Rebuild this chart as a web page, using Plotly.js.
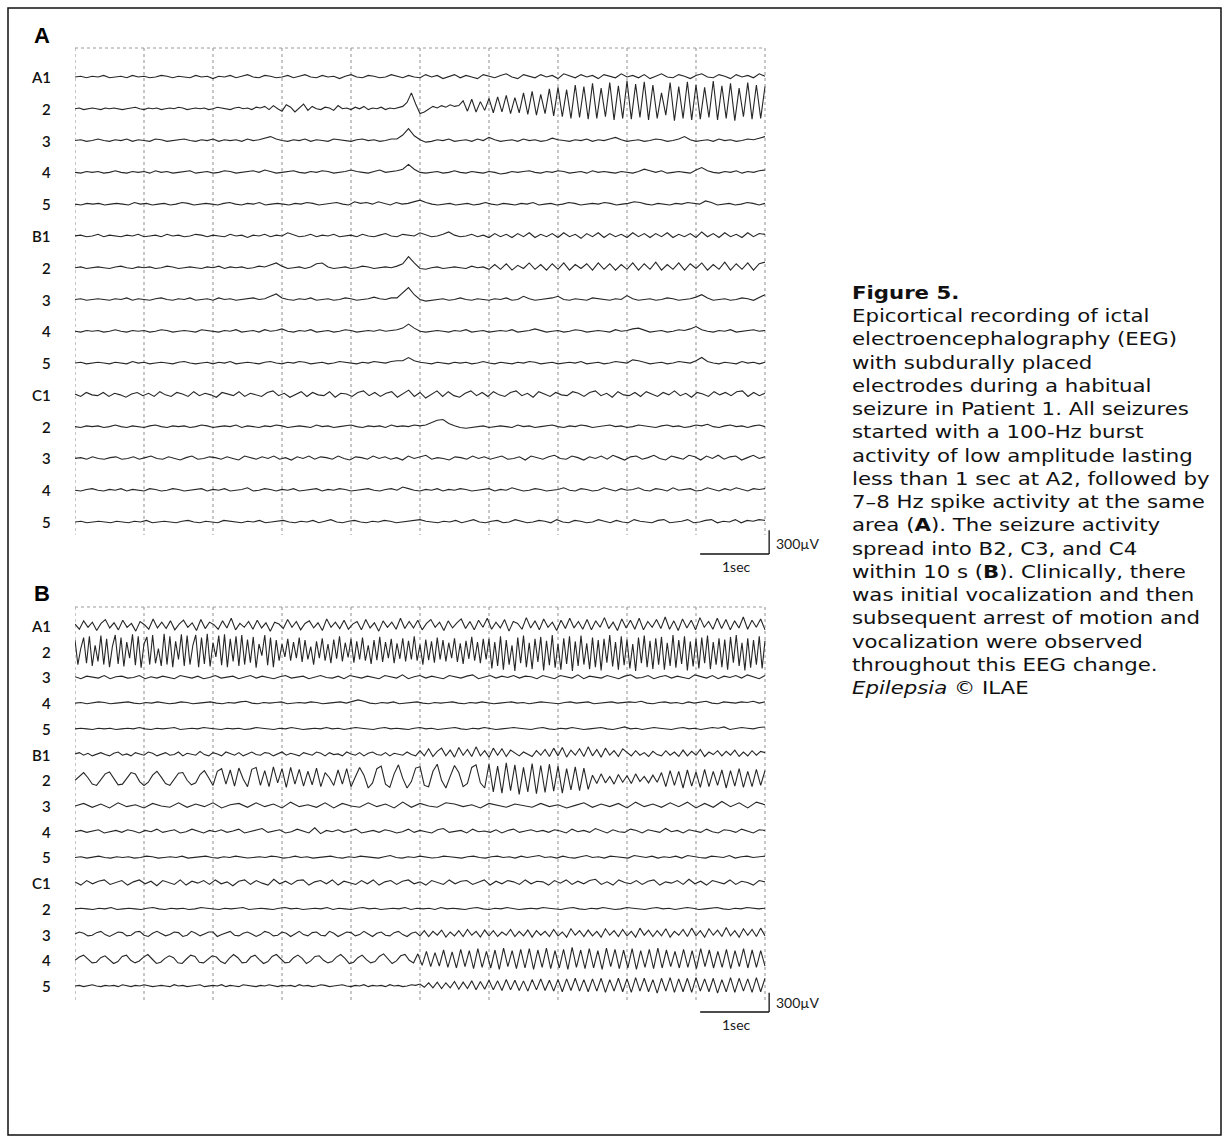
<!DOCTYPE html>
<html>
<head>
<meta charset="utf-8">
<script src="https://cdn.plot.ly/plotly-3.0.1.min.js"></script>
<style>html,body{margin:0;padding:0;background:#fff;}#chart{width:1226px;height:1141px;}</style>
</head>
<body>
<div id="chart"></div>
<script>
// ===== DATA (values in units of 10 µV, each channel sampled uniformly over 10 s) =====
const channelLabels = ["A1","2","3","4","5","B1","2","3","4","5","C1","2","3","4","5"];
const durationSec = 10;
const unitMicroVolt = 10;
const channelSpacingMicroVolt = 400;

// ---- Panel A ----
const pA_A1 = [0,1,-1,1,0,2,-1,0,1,-1,2,0,1,-1,0,2,1,-1,1,0,-1,2,0,1,-2,1,0,2,-1,1,3,0,-1,2,1,-1,0,2,-1,1,3,0,-1,2,0,1,-2,1,3,0,-1,2,1,-1,0,3,1,-1,2,0,
 -1,3,0,2,-2,1,3,-1,2,0,-2,3,1,-1,2,4,0,-2,3,1,-1,3,0,2,-2,4,1,-1,3,0,2,-2,3,1,-1,4,0,2,-1,3,-2,1,4,0,-1,3,1,-2,2,4,0,-1,3,1,-2,3,0,2,-1,4,1];
const pA_A2 = [0,1,-1,0,1,0,-1,1,0,1,0,-1,0,1,2,0,-1,1,0,1,-1,0,1,0,2,1,-1,0,1,0,1,-1,0,2,1,0,-1,1,2,0,1,-1,2,1,
 3,-1,4,0,-3,5,2,-4,1,6,-2,3,0,-1,2,1,-2,4,0,1,-1,2,0,3,-1,1,0,2,-1,1,0,2,3,
 8,20,6,-6,-4,-1,3,1,4,2,5,3,4,
 10,-3,12,-4,9,-2,13,-5,15,-4,17,-6,14,-5,20,-7,22,-8,18,-6,25,-9,27,-10,24,-12,30,-11,28,-13,32,-12,26,-10,33,-14,29,-12,35,-13,31,-11,34,-14,30,-12,20,-8,33,-15,28,-12,34,-14,30,-13,27,-11,35,-14,29,-12,32,-15,26,-10,33,-13,30,-12,28];
const pA_A3 = [0,1,-1,0,2,0,-1,1,0,2,-1,1,0,-1,2,1,-1,0,1,2,0,-1,1,0,2,-1,1,0,1,-1,2,0,1,3,5,2,0,-1,1,0,2,-1,1,0,-1,2,1,0,-1,1,2,0,1,-1,0,2,
 2,7,15,6,1,-2,
 -1,1,0,2,-1,0,1,-1,2,0,4,1,-1,0,1,-1,2,0,1,-1,0,3,1,0,-1,1,0,2,-1,1,0,2,4,1,-1,0,1,-1,0,2,1,-1,0,2,5,1,-1,0,1,-1,2,0,1,-1,0,2,1,3,5];
const pA_A4 = [0,-1,1,0,1,-1,0,2,0,-1,1,0,1,-1,2,0,1,-1,0,1,2,-1,0,1,-1,0,2,1,-1,0,1,2,0,3,1,-1,0,1,2,0,-1,1,0,2,1,-1,0,1,3,1,0,-1,1,3,0,1,2,
 4,10,4,0,
 -1,0,1,-1,0,2,0,-1,1,0,-1,1,0,-2,-1,1,0,1,2,0,-1,1,0,2,1,-1,0,1,-1,2,0,1,0,-1,1,0,-1,1,4,2,0,2,-1,0,1,0,-1,3,6,2,0,-1,1,0,2,-1,1,0,2,3];
const pA_A5 = [0,-1,1,0,1,-1,0,1,0,-1,2,0,1,-1,0,1,-1,0,2,1,-1,0,1,0,-1,1,2,0,-1,1,0,2,-1,0,1,0,-1,1,0,2,1,-1,0,1,2,0,-1,3,1,2,0,3,1,-1,2,0,1,3,5,2,0,-1,0,1,-1,0,1,-1,0,2,0,-1,1,0,-1,1,0,2,-1,0,1,-1,0,2,1,-1,0,1,0,2,1,-1,0,1,3,2,0,-1,1,0,-1,1,0,2,1,0,4,2,-1,0,1,-1,0,2,1,-1,1];
const pA_B1 = [0,1,-1,0,2,-1,1,0,-1,1,0,2,-1,0,1,-1,2,0,1,-1,0,2,1,-1,1,0,-1,2,0,1,-2,1,0,2,-1,1,0,4,1,-1,0,2,-1,1,0,2,-1,0,
 1,-1,2,0,-1,1,3,0,-1,2,1,0,4,1,-1,0,2,5,1,-1,0,2,-1,1,
 -2,3,-1,2,-2,3,-1,4,-2,2,-1,3,-2,4,-1,2,-3,3,-1,4,-2,3,-1,2,-2,4,-1,3,-2,3,-1,4,-2,2,-1,3,-2,5,-1,3,-2,4,-1,2,-2,4,-1,3,2];
const pA_B2 = [0,1,-1,0,1,0,-1,1,2,0,-1,1,0,1,-1,0,2,1,-1,0,1,0,-1,1,0,2,-1,1,0,1,-1,0,2,1,
 4,6,2,-1,0,1,-1,1,5,6,1,-1,
 0,1,-1,0,2,1,-1,0,1,0,2,
 5,14,6,-1,
 -2,0,1,-1,0,1,0,-1,2,0,1,
 -2,4,-2,5,-3,3,-1,6,-2,4,-3,5,-2,6,-3,4,-1,5,-3,6,-2,5,-3,4,-2,6,-3,5,-2,7,-3,4,-2,6,-3,5,-1,6,-3,4,-2,7,-3,5,-2,6,-3,5,7];
const pA_B3 = [0,1,-1,0,1,0,-1,1,0,2,-1,1,0,-1,1,2,0,-1,1,0,2,-1,0,1,-1,2,0,1,-1,0,1,2,0,1,
 4,7,2,0,
 -1,1,0,2,-1,0,1,-1,0,2,1,-1,0,1,3,1,0,2,
 2,8,15,6,0,-2,
 -1,0,1,-1,0,2,0,-1,1,0,-1,1,0,2,-1,0,4,1,-1,0,1,2,4,0,-1,1,0,-1,2,1,0,-1,1,0,5,1,-1,0,1,-1,0,2,1,-1,0,1,3,6,2,-1,0,1,-1,0,2,1,-1,3,6];
const pA_B4 = [0,-1,1,0,1,-1,0,2,0,-1,1,0,1,-1,0,2,1,-1,0,1,0,-1,2,1,0,-1,1,0,2,-1,0,1,-1,2,0,1,3,0,-1,1,0,2,-1,0,1,-1,0,2,1,-1,0,1,0,2,0,1,2,
 4,9,4,0,
 -1,0,1,0,-1,1,0,2,-1,0,1,-1,0,1,0,2,-1,0,1,3,1,-1,0,1,-1,0,2,1,-1,0,1,0,-1,2,0,1,3,4,1,-1,0,1,-1,0,2,1,3,6,2,0,-1,1,0,2,-1,0,1,2,0,1];
const pA_B5 = [0,1,-1,0,1,0,-1,1,0,-1,2,0,1,-1,0,1,0,-1,1,2,0,-1,0,1,-1,1,0,2,-1,0,1,0,-1,1,2,0,-1,1,0,2,1,-1,0,1,-1,0,2,1,0,-1,1,0,2,1,0,2,3,
 3,7,3,1,
 0,-1,1,0,-1,1,0,1,-1,0,2,0,-1,1,0,-1,1,0,2,1,-1,0,1,-1,0,1,0,2,-1,0,1,-1,0,2,1,0,4,3,1,-1,0,1,-1,0,2,1,0,3,7,2,0,-1,1,0,-1,2,0,1,-1,1];
const pA_C1 = [1,-2,3,0,-1,3,-2,2,0,-3,1,3,-1,2,-2,4,0,-2,3,1,-2,4,-1,2,0,-3,3,1,-1,4,-2,2,0,-2,3,5,-1,2,-3,1,4,-2,3,0,-1,4,-3,2,1,-2,3,5,-1,3,-2,2,4,-3,1,6,-2,3,-4,1,5,-2,4,-1,-3,2,5,-1,3,-2,4,0,-2,3,5,-1,2,-3,4,1,-2,3,0,-1,4,2,-2,3,5,-1,2,-3,4,0,-1,3,-2,4,1,-2,3,0,5,-1,2,-3,3,1,-2,4,0,3,-1,4,5,-2,3,-1,2];
const pA_C2 = [0,-1,1,0,1,-1,0,2,0,-1,1,0,-1,1,2,0,-1,1,0,1,-1,0,2,1,-1,0,1,0,2,-1,1,0,-1,1,0,2,1,-1,0,1,0,-1,2,0,1,-1,0,1,2,0,-1,1,0,1,-1,2,0,1,0,2,1,
 2,5,8,9,4,1,-1,
 -2,-1,0,1,-1,0,1,0,-1,2,0,1,-1,0,1,2,0,-1,1,0,2,1,-1,0,1,2,0,1,-1,0,2,1,0,-1,1,2,0,1,-1,0,2,1,3,0,-1,1,2,0,1,-1,1,2,0];
const pA_C3 = [0,1,-1,2,0,-1,1,2,-1,0,2,-1,1,3,0,-1,2,0,-2,1,3,-1,0,2,1,-1,2,0,-2,3,1,-1,2,0,3,-1,1,-2,2,0,3,-1,2,1,-1,3,0,-2,2,1,-1,3,0,2,-1,1,-2,3,0,2,4,-1,1,0,-2,2,1,-1,3,0,2,-1,1,3,-1,0,2,-2,3,1,-1,2,4,0,-1,3,1,-2,2,0,3,-1,4,1,-2,2,3,-1,1,4,0,-2,3,1,-1,4,2,-2,3,0,4,-1,2,3,-2,1,4,0,2];
const pA_C4 = [0,-1,1,2,0,-1,1,0,2,-1,1,0,-1,2,1,-1,0,2,1,-1,0,1,2,-1,1,0,2,-1,0,1,3,-1,0,2,1,-1,1,0,2,-1,0,1,2,-1,1,0,2,1,-1,0,1,2,0,-1,1,2,0,4,2,0,-1,1,0,2,-1,1,0,2,1,-1,0,1,2,-1,1,0,3,1,-1,0,2,1,-1,0,1,3,0,-1,2,1,-1,0,3,1,-1,2,0,1,3,0,-1,2,1,-1,3,0,1,2,-1,0,3,1,-1,2,0,3,1,-1,2,1,2];
const pA_C5 = [0,1,-1,0,1,0,-1,1,0,-1,1,0,2,-1,0,1,0,-1,1,2,0,-1,1,0,-1,2,1,0,-1,1,0,2,-1,0,1,2,0,-1,1,0,2,-1,1,3,0,-1,1,2,0,-1,1,0,2,1,-1,0,1,2,3,1,0,-1,1,0,2,-1,1,3,0,-1,1,2,-1,0,3,1,-1,0,2,1,-1,3,0,-1,2,1,-1,0,3,1,-1,2,0,-1,3,1,0,-1,2,3,-1,0,1,3,-1,0,2,3,-1,1,0,3,-1,2,1,3,2];

// ---- Panel B ----
const pB_A1 = [3,-5,8,-2,6,-7,4,10,-3,5,-6,9,-2,4,-8,7,2,-5,11,-3,6,-4,8,-6,3,9,-2,5,-7,10,-4,6,2,-5,8,-3,12,-6,4,-2,7,-5,9,-3,5,-8,6,3,-4,10,-2,7,-6,4,8,-3,5,-7,11,-2,6,-4,9,-5,3,7,-6,10,-3,5,-8,8,-2,6,-5,12,-4,7,-3,9,-6,4,10,-2,6,-7,8,-3,5,11,-4,7,-6,9,-2,12,-5,6,-3,10,-8,7,4,-5,13,-3,8,-6,11,-2,6,-7,9,-4,12,-3,7,-5,10,-6,8,-2,13,-4,6,-7,11,-3,9,-5,12,-6,7,-2,10,-4,14,-5,8,-7,11,-3,9,-6,13,-2,7,-5,12,-4,10,-6,8,-3,14,-5,9,-2,11,-6];
const pB_A2 = [18,-20,5,22,-18,24,-22,10,-15,25,-20,20,-24,8,26,-19,22,-23,15,-10,27,-21,24,-25,12,23,-20,26,-18,5,-22,28,-20,24,-24,16,-12,27,-22,25,-20,10,26,-24,22,-19,28,-23,14,-8,25,-21,27,-24,20,-15,24,-22,26,-20,19,-17,23,-25,12,-6,26,-21,22,-24,18,-14,
 12,-8,20,-14,15,-10,22,-16,18,-12,8,-20,16,-10,21,-14,12,-18,19,-11,24,-15,14,-9,20,-17,16,-12,22,-14,10,-19,18,-13,23,-16,15,-10,20,-18,13,-11,21,-15,17,-12,24,-14,11,-20,19,-13,16,-17,22,-12,18,-15,14,-10,21,-16,13,-19,17,-11,23,-14,15,-18,20,-12,
 20,-26,15,-22,24,-28,18,-20,10,-30,22,-18,25,-24,14,-27,20,-16,23,-29,17,-21,26,-25,12,-28,21,-19,24,-30,16,-22,25,-20,13,-27,22,-24,18,-29,20,-17,26,-23,15,-28,24,-21,19,-26,12,-30,22,-18,25,-24,17,-27,21,-20,23,-28,14,-22,26,-25,18,-19,24,-29,16,-23,20,-26,22,-18,25,-27,15,-20,21,-24,19,-28,23,-17,26,-22,14,-29,21,-25,18,-20,24,-26,17];
const pB_A3 = [1,-2,2,0,-1,3,-2,1,2,-1,0,3,-2,1,-1,2,0,-2,3,1,-1,2,-2,0,3,-1,1,2,-2,0,3,-1,2,0,-2,1,3,-1,0,2,-2,1,3,0,-1,2,-2,3,1,-1,2,0,-2,3,1,-1,4,-2,1,3,-1,2,0,-2,3,1,-1,2,4,-2,1,3,-1,2,0,3,-1,2,1,-2,3,0,-2,3,1,-1,4,-2,2,0,-1,3,1,-2,2,4,-1,0,3,-2,1,3,-1,2,0,-2,4,1,-1,3,-2,2,0,3,-1,4,1,-2,3];
const pB_A4 = [0,1,-1,0,2,1,-1,0,1,2,0,-1,1,0,2,1,-1,0,2,1,-1,0,1,2,0,-1,1,0,2,3,0,-1,1,0,1,2,-1,0,1,0,2,1,-1,0,1,2,0,2,5,3,0,-1,1,0,2,-1,0,1,2,0,-1,1,0,1,2,0,-1,1,0,2,1,-1,0,1,2,0,1,-1,0,2,1,0,-1,1,2,0,1,2,-1,0,1,2,0,1,2,1,3,0,-1,1,2,0,1,-1,2,0,1,3,0,-1,2,1,0,2,1,3,0,2];
const pB_A5 = [0,1,0,-1,1,0,1,-1,0,1,0,2,0,-1,1,0,1,2,-1,0,1,0,2,1,0,-1,1,0,1,-1,0,2,1,0,-1,1,0,2,1,-1,0,1,0,2,0,1,-1,0,2,1,0,-1,1,2,0,1,0,-1,1,2,0,1,-1,0,1,2,0,-1,1,0,2,1,-1,0,1,2,1,0,-1,1,2,0,-1,1,0,2,1,-1,0,1,2,0,-1,1,3,0,1,-1,0,2,1,0,-1,1,2,0,1,-1,0,2,1,3,-1,0,2,1,0,2,3];
const pB_B1 = [1,3,-1,2,-2,1,3,0,-2,2,4,-1,1,-2,3,1,-1,4,2,-2,1,3,-1,0,4,-2,2,1,-1,5,0,-2,3,1,-2,4,2,-1,3,-2,1,4,0,-1,3,2,-2,1,4,-1,2,0,-2,3,1,-1,4,2,-2,3,0,1,-2,4,1,-1,3,-2,2,4,0,-1,3,-2,2,1,-1,4,0,-2,
 6,-2,9,-3,5,10,-2,7,-4,11,-1,8,-3,12,-2,6,-4,10,-1,9,-3,7,2,-2,4,0,-3,6,-1,8,-3,10,-2,11,-4,7,-1,9,-3,12,-2,8,-4,10,-1,6,-3,9,
 4,-2,6,-1,3,-3,5,0,-2,6,-1,4,-3,7,-2,5,-1,8,-3,4,0,6,-2,5,-1,7,-3,4,-2,6,-1,5,3];
const pB_B2 = [0,6,12,4,-6,-8,2,10,13,3,-7,-6,4,12,10,-2,-8,-3,8,14,5,-5,-8,1,11,12,0,-7,-4,9,15,4,
 -8,14,18,-6,16,-9,19,2,-10,17,20,-8,15,-10,21,-4,18,-11,20,-6,17,-9,14,-7,19,-10,12,4,-8,16,-6,18,
 -10,5,20,8,-12,-4,18,22,-6,-11,10,24,3,-12,-2,19,21,-8,-10,14,25,0,-12,6,23,12,-10,-5,20,24,-4,-12,
 25,-18,22,-20,27,-16,24,-22,20,-18,26,-21,23,-19,25,-17,22,-20,18,-15,21,-16,19,-14,
 8,-5,10,-4,6,-6,9,-3,7,-5,10,-2,6,-4,8,-3,
 12,-10,15,-8,14,-12,16,-9,13,-11,17,-10,14,-8,16,-12,15,-9,18,-11,14,-10,17,-8,15];
const pB_B3 = [0,4,-2,3,-3,5,-1,2,-3,4,0,-2,5,-2,3,-1,5,-3,2,4,-2,5,-1,3,-3,6,-1,2,-2,5,-3,4,0,-2,5,-1,3,-3,6,-2,4,0,-2,5,3,-1,2,-3,4,1,-2,3,0,-2,4,-1,2,-3,1,5,-2,3,-1,4,-3,6,-1,3,-2,5,-1,6,-3,4,-2,7,-1,5,-3,6,2];
const pB_B4 = [0,2,-1,1,3,-2,0,2,-1,3,1,-2,2,0,4,-1,1,3,-2,0,4,1,-2,2,0,3,-1,1,4,-2,0,2,5,-1,1,3,-2,0,4,1,-2,6,-3,2,0,3,-1,1,4,-2,0,2,-1,3,1,-2,0,4,-1,2,0,-2,3,5,-1,0,2,-2,4,0,1,-1,3,-2,2,4,-1,1,3,0,2,-1,3,1,-2,4,0,2,-1,5,1,-2,3,0,-1,4,2,-2,3,1,-1,5,0,2,-2,3,1,-1,4,0,-2,3,2,-1,4,1,-2,3,2];
const pB_B5 = [0,1,-1,0,2,0,-1,1,0,1,-1,0,2,1,-1,0,1,0,2,-1,0,1,2,0,-1,1,0,2,1,-1,0,1,0,2,1,-1,0,2,0,1,-1,0,1,2,0,-1,1,0,2,1,0,-1,1,3,0,-1,1,0,2,1,-1,0,2,1,0,-1,1,2,0,-1,1,2,0,1,-1,2,0,1,3,0,1,-1,2,0,-1,1,3,0,1,-1,2,1,0,-1,3,1,0,2,-1,1,0,2,-1,3,1,0,-1,2,1,0,3,-1,1,2,0,1,2];
const pB_C1 = [2,-3,4,-1,3,5,-2,1,4,-3,2,5,-1,3,-4,4,1,-2,5,-3,3,0,4,-2,5,-1,2,-4,3,5,-2,4,0,-3,6,-1,3,-2,4,5,-3,2,4,-1,5,-3,3,1,-2,4,-1,5,-3,2,4,-2,3,5,-1,2,-3,4,1,-2,5,-1,3,4,-2,2,5,-3,3,-1,4,2,-2,5,-1,3,2,-3,4,0,5,-2,3,-1,4,6,-2,2,-3,5,1,-1,4,-2,3,5,-3,2,0,4,-2,6,-1,3,-3,4,2,-1,5,-2,3,1,-3,4,2];
const pB_C2 = [0,1,0,-1,1,0,2,-1,0,1,0,-1,1,2,0,-1,1,0,1,-1,0,2,1,0,-1,1,0,1,2,-1,0,1,0,-1,1,2,0,1,-1,0,1,0,2,-1,1,0,-1,1,2,0,1,-1,0,1,0,2,-1,1,0,1,-1,2,0,1,0,-1,1,2,0,-1,1,0,2,1,-1,0,1,0,2,1,0,-1,1,2,0,-1,1,0,2,1,-1,0,2,1,0,-1,1,2,0,1,-1,0,2,1,-1,0,1,2,0,-1,1,0,2,1,0,1];
const pB_C3 = [1,4,2,-2,-1,3,5,0,-3,1,4,3,-2,-1,4,5,-1,-3,2,5,1,-2,0,4,3,-3,-1,5,2,-2,1,4,4,-3,0,3,5,-1,-2,2,4,1,-3,0,5,3,-2,-1,4,2,-3,1,5,0,-2,3,4,-1,-2,5,2,-3,1,4,3,-2,0,5,1,-3,2,4,-1,-2,3,5,0,-3,2,4,
 -2,6,-3,5,-1,7,-4,4,-2,6,-3,8,-1,5,-4,7,-2,6,-3,4,-1,8,-3,5,-2,7,-4,6,-1,5,-3,8,-2,4,-4,9,-1,6,-3,7,-2,5,-4,9,-1,6,-3,8,-2,5,-4,10,-1,7,-3,6,-2,9,-4,5,-1,8,-3,10,-2,6,-4,9,-1,7,-3,11,-2,6,-4,9,-1,8,-3,10,-2];
const pB_C4 = [0,5,8,2,-4,-3,4,7,1,-5,-2,6,8,0,-4,-1,5,9,2,-5,-3,3,7,4,-4,-5,2,8,6,-3,-4,1,7,5,-2,-5,3,9,4,-4,-3,5,8,1,-5,-2,6,9,2,-4,-3,4,8,3,-5,-1,6,7,0,-4,-2,5,9,3,-5,-3,4,8,1,-4,-2,6,10,2,-5,-1,7,9,0,-4,
 10,-8,14,-10,12,-9,16,-11,13,-12,17,-10,15,-13,18,-11,14,-12,16,-14,19,-10,15,-13,17,-12,18,-14,16,-11,19,-13,15,-12,17,-14,20,-11,16,-13,18,-12,15,-14,19,-10,17,-13,16,-12,18,-14,15,-11,17,-13,19,-12,16,-10,14,-12,17,-11,15,-13,18,-10,16,-12,14,-11,17,-13,15,-10,18,-12,16,-11,15,-9];
const pB_C5 = [0,1,-1,0,2,0,-1,1,0,1,-1,2,0,-1,1,0,2,1,-1,0,1,0,-1,2,0,1,-1,0,1,2,-1,0,1,0,2,-1,1,0,-1,2,1,0,-1,1,0,2,0,-1,1,0,1,-1,2,0,1,-1,0,2,1,-1,0,1,2,0,-1,1,0,2,-1,1,0,1,-1,2,0,1,-1,0,2,1,
 3,-2,5,-3,6,-4,5,-3,7,-5,6,-4,8,-6,7,-5,9,-6,8,-7,10,-6,9,-7,8,-8,10,-6,11,-7,9,-8,10,-9,11,-7,12,-8,10,-9,11,-8,12,-10,10,-8,12,-9,11,-10,13,-8,12,-9,10,-11,12,-8,13,-10,11,-9,12,-10,13,-8,11,-9,12,-11,10,-9,13,-10,12,-8,11,-10,13,-9,12];

const panelA = [pA_A1,pA_A2,pA_A3,pA_A4,pA_A5,pA_B1,pA_B2,pA_B3,pA_B4,pA_B5,pA_C1,pA_C2,pA_C3,pA_C4,pA_C5];
const panelB = [pB_A1,pB_A2,pB_A3,pB_A4,pB_A5,pB_B1,pB_B2,pB_B3,pB_B4,pB_B5,pB_C1,pB_C2,pB_C3,pB_C4,pB_C5];

const captionLines = [
  "<b>Figure 5.</b>",
  "Epicortical recording of ictal",
  "electroencephalography (EEG)",
  "with subdurally placed",
  "electrodes during a habitual",
  "seizure in Patient 1. All seizures",
  "started with a 100-Hz burst",
  "activity of low amplitude lasting",
  "less than 1 sec at A2, followed by",
  "7–8 Hz spike activity at the same",
  "area (<b>A</b>). The seizure activity",
  "spread into B2, C3, and C4",
  "within 10 s (<b>B</b>). Clinically, there",
  "was initial vocalization and then",
  "subsequent arrest of motion and",
  "vocalization were observed",
  "throughout this EEG change.",
  "<i>Epilepsia</i> © ILAE"
];

// ===== LAYOUT GEOMETRY (pixels) =====
const W = 1226, H = 1141;
const px = x => x / W;
const py = y => 1 - y / H;
const plotLeft = 75, plotRight = 765, axisRight = 800;
const pxPerSec = (plotRight - plotLeft) / durationSec;
const panels = [
  {data: panelA, xa: 'x', ya: 'y', first: 77, last: 522, top: 40, bottom: 575, tickRow: 48, gridBottom: 535,
   label: 'A', labelY: 35, barY: 554, mvY: 543, secY: 566},
  {data: panelB, xa: 'x2', ya: 'y2', first: 626, last: 986, top: 598, bottom: 1040, tickRow: 607, gridBottom: 1000,
   label: 'B', labelY: 593, barY: 1012, mvY: 1002, secY: 1024}
];

const traces = [];
const shapes = [];
const annotations = [];
const layout = {
  width: W, height: H, margin: {l:0, r:0, t:0, b:0},
  paper_bgcolor: '#fff', plot_bgcolor: 'rgba(0,0,0,0)', showlegend: false,
  font: {family: 'Lato, "Open Sans", sans-serif', color: '#1a1a1a'}
};

panels.forEach((p, pi) => {
  const scale = (p.last - p.first) / ((channelLabels.length - 1) * channelSpacingMicroVolt); // px per µV
  const toUV = yPix => (p.first - yPix) / scale;
  const xName = pi === 0 ? 'xaxis' : 'xaxis2';
  const yName = pi === 0 ? 'yaxis' : 'yaxis2';
  layout[xName] = {domain: [px(plotLeft), px(axisRight)], range: [0, (axisRight - plotLeft) / pxPerSec], visible: false, anchor: p.ya, fixedrange: true};
  layout[yName] = {domain: [py(p.bottom), py(p.top)], range: [toUV(p.bottom), toUV(p.top)], visible: false, anchor: p.xa, fixedrange: true};

  for (let s = 0; s <= durationSec; s++) {
    shapes.push({type: 'line', xref: p.xa, yref: p.ya, x0: s, x1: s, y0: toUV(p.tickRow), y1: toUV(p.gridBottom),
      line: {color: '#8f8f8f', width: 1, dash: 'dot'}, layer: 'below'});
  }
  shapes.push({type: 'line', xref: p.xa, yref: p.ya, x0: 0, x1: durationSec, y0: toUV(p.tickRow), y1: toUV(p.tickRow),
    line: {color: '#9a9a9a', width: 1, dash: 'dot'}, layer: 'below'});

  p.data.forEach((arr, k) => {
    const offset = -k * channelSpacingMicroVolt;
    traces.push({
      type: 'scatter', mode: 'lines', xaxis: p.xa, yaxis: p.ya, hoverinfo: 'skip',
      x: arr.map((_, i) => i * durationSec / (arr.length - 1)),
      y: arr.map(v => offset + v * unitMicroVolt),
      line: {color: '#262626', width: 1.1}
    });
    annotations.push({xref: 'paper', yref: 'paper', x: px(53), y: py(p.first + k * (p.last - p.first) / (channelLabels.length - 1)),
      xanchor: 'right', yanchor: 'middle', showarrow: false, text: channelLabels[k],
      font: {size: 15, family: 'Lato, sans-serif', color: '#111', weight: 600}});
  });

  const barX1 = durationSec + 0.06;
  shapes.push({type: 'line', xref: p.xa, yref: p.ya, x0: barX1 - 1, x1: barX1, y0: toUV(p.barY), y1: toUV(p.barY), line: {color: '#111', width: 1.3}});
  shapes.push({type: 'line', xref: p.xa, yref: p.ya, x0: barX1, x1: barX1, y0: toUV(p.barY), y1: toUV(p.barY) + 300, line: {color: '#111', width: 1.3}});
  annotations.push({xref: 'paper', yref: 'paper', x: px(774), y: py(p.mvY), xanchor: 'left', yanchor: 'middle', showarrow: false,
    text: '300µV', font: {size: 14, family: 'Lato, sans-serif', color: '#1a1a1a'}});
  annotations.push({xref: 'paper', yref: 'paper', x: px(736), y: py(p.secY), xanchor: 'center', yanchor: 'middle', showarrow: false,
    text: '1sec', font: {size: 14, family: 'Lato, sans-serif', color: '#1a1a1a'}});
  annotations.push({xref: 'paper', yref: 'paper', x: px(42), y: py(p.labelY), xanchor: 'center', yanchor: 'middle', showarrow: false,
    text: '<b>' + p.label + '</b>', font: {size: 22, family: '"Liberation Sans", Arial, sans-serif', color: '#000'}});
});

// caption: one text block, line pitch 1.3 × font size
const captionFirstLine = 292, captionLast = 687;
const captionFont = (captionLast - captionFirstLine) / (captionLines.length - 1) / 1.3;
const captionStretch = 1.19;
annotations.push({xref: 'paper', yref: 'paper', x: px(851), y: py((captionFirstLine + captionLast) / 2), xanchor: 'left', yanchor: 'middle',
  showarrow: false, borderpad: 0, text: captionLines.join('<br>'), align: 'left',
  font: {size: captionFont, family: '"DejaVu Sans", sans-serif', color: '#111'}});

shapes.push({type: 'rect', xref: 'paper', yref: 'paper', x0: px(8), x1: px(1221), y0: py(1135), y1: py(8), line: {color: '#111', width: 1.5}});

layout.shapes = shapes;
layout.annotations = annotations;
Plotly.newPlot('chart', traces, layout, {displayModeBar: false, staticPlot: true}).then(gd => {
  gd.querySelectorAll('text.annotation-text').forEach(t => {
    if (t.textContent.indexOf('Epicortical') >= 0) {
      const b = t.getBBox();
      t.setAttribute('transform', 'translate(' + b.x + ',0) scale(' + captionStretch + ',1) translate(' + (-b.x) + ',0)');
    }
  });
});
</script>
</body>
</html>
